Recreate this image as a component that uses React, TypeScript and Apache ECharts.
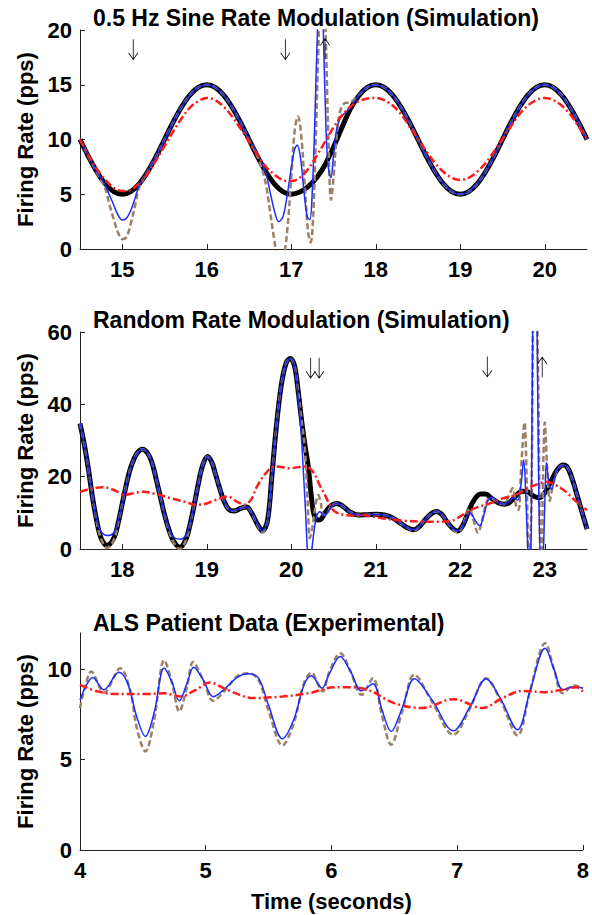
import React, { useEffect, useRef } from "react";
import * as echarts from "echarts";

type P = [number, number][];

// ---------- Panel 1: 0.5 Hz sine ----------
const p1Black: P = [
  [14.5, 10.0], [14.6, 8.45], [14.7, 7.06], [14.8, 5.95], [14.9, 5.24], [15.0, 5.0], [15.1, 5.24], [15.2, 5.95],
  [15.3, 7.06], [15.4, 8.45], [15.5, 10.0], [15.6, 11.55], [15.7, 12.94], [15.8, 14.05], [15.9, 14.76], [16.0, 15.0],
  [16.1, 14.76], [16.2, 14.05], [16.3, 12.94], [16.4, 11.55], [16.5, 10.0], [16.6, 8.45], [16.7, 7.06], [16.8, 5.95],
  [16.9, 5.24], [17.0, 5.0], [17.1, 5.2], [17.2, 5.7], [17.3, 6.5], [17.4, 7.7], [17.5, 9.3], [17.6, 11.1],
  [17.7, 12.8], [17.8, 14.0], [17.9, 14.76], [18.0, 15.0], [18.1, 14.76], [18.2, 14.05], [18.3, 12.94], [18.4, 11.55],
  [18.5, 10.0], [18.6, 8.45], [18.7, 7.06], [18.8, 5.95], [18.9, 5.24], [19.0, 5.0], [19.1, 5.24], [19.2, 5.95],
  [19.3, 7.06], [19.4, 8.45], [19.5, 10.0], [19.6, 11.55], [19.7, 12.94], [19.8, 14.05], [19.9, 14.76], [20.0, 15.0],
  [20.1, 14.76], [20.2, 14.05], [20.3, 12.94], [20.4, 11.55], [20.5, 10.0],
];
const p1BlueHead: P = [
  [14.5, 10], [14.6, 8.45], [14.7, 7.06], [14.8, 5.8], [14.85, 4.9], [14.9, 4.0], [14.95, 3.1], [15.0, 2.65],
  [15.05, 2.8], [15.1, 3.5], [15.15, 4.6], [15.2, 5.8], [15.3, 7.06], [15.4, 8.45], [15.5, 10], [15.6, 11.55],
  [15.7, 12.94], [15.8, 14.05], [15.9, 14.76], [16.0, 15], [16.1, 14.76], [16.2, 14.05], [16.3, 12.94], [16.4, 11.55],
  [16.5, 10], [16.6, 8.7], [16.7, 6.9], [16.75, 5.2], [16.8, 3.5], [16.85, 2.5], [16.9, 2.9], [16.95, 4.8],
  [17.0, 7.4], [17.04, 9.1], [17.07, 9.5], [17.11, 8.3], [17.15, 5.3], [17.19, 2.9], [17.22, 2.7], [17.25, 5.5],
  [17.28, 12], [17.31, 20], [17.34, 25], [17.37, 22], [17.4, 14], [17.43, 8], [17.47, 6.5], [17.5, 8.6],
  [17.53, 10.6], [17.57, 11.8], [17.62, 12.3], [17.7, 12.9], [17.8, 14.05],
];
const p1BrownHead: P = [
  [14.5, 10], [14.6, 8.45], [14.7, 7.0], [14.8, 5.5], [14.85, 4.0], [14.9, 2.7], [14.95, 1.5], [15.0, 0.9],
  [15.05, 1.1], [15.1, 2.3], [15.15, 3.9], [15.2, 5.6], [15.3, 7.06], [15.4, 8.45], [15.5, 10], [15.6, 11.55],
  [15.7, 12.94], [15.8, 14.05], [15.9, 14.76], [16.0, 15], [16.1, 14.76], [16.2, 14.05], [16.3, 12.94], [16.4, 11.55],
  [16.5, 10], [16.6, 8.45], [16.65, 7.4], [16.7, 5.9], [16.75, 3.4], [16.8, 0.8], [16.85, -1.2], [16.9, -1.0],
  [16.95, 1.5], [17.0, 6.5], [17.04, 10.8], [17.08, 12.1], [17.12, 10.2], [17.16, 5.8], [17.2, 1.5], [17.23, 0.6],
  [17.26, 3], [17.29, 10], [17.32, 18], [17.35, 25], [17.38, 26], [17.41, 19], [17.44, 10], [17.47, 4.5],
  [17.5, 6.5], [17.54, 10.5], [17.58, 12.6], [17.63, 13.3], [17.7, 13.4], [17.8, 14.05],
];
const p1Red: P = [
  [14.5, 10.0], [14.6, 8.6], [14.7, 7.3], [14.8, 6.3], [14.9, 5.6], [15.0, 5.3], [15.1, 5.4], [15.2, 6.0],
  [15.3, 6.9], [15.4, 8.1], [15.5, 9.4], [15.6, 10.7], [15.7, 11.9], [15.8, 12.9], [15.9, 13.5], [16.0, 13.8],
  [16.1, 13.6], [16.2, 13.0], [16.3, 12.1], [16.4, 11.0], [16.5, 9.8], [16.6, 8.6], [16.7, 7.5], [16.8, 6.8],
  [16.9, 6.3], [17.0, 6.2], [17.1, 6.5], [17.2, 7.3], [17.3, 8.5], [17.4, 9.8], [17.5, 11.1], [17.6, 12.2],
  [17.7, 13.0], [17.8, 13.5], [17.9, 13.75], [18.0, 13.8], [18.1, 13.6], [18.2, 13.1], [18.3, 12.3], [18.4, 11.2],
  [18.5, 10.05], [18.6, 8.9], [18.7, 7.85], [18.8, 7.05], [18.9, 6.5], [19.0, 6.3], [19.1, 6.5], [19.2, 7.05],
  [19.3, 7.85], [19.4, 8.9], [19.5, 10.05], [19.6, 11.2], [19.7, 12.3], [19.8, 13.1], [19.9, 13.6], [20.0, 13.8],
  [20.1, 13.6], [20.2, 13.1], [20.3, 12.3], [20.4, 11.2], [20.5, 10.05],
];
const p1ArrowDown: P = [[15.13, 18.2], [16.93, 18.2]];
const p1ArrowUp: P = [[17.4, 18.3]];

// ---------- Panel 2: random rate ----------
const p2Black: P = [
  [17.5, 34.7], [17.55, 29], [17.6, 22], [17.65, 14], [17.7, 7.5], [17.75, 3], [17.82, 1.0], [17.9, 3],
  [17.95, 7], [18.0, 12.5], [18.05, 18], [18.1, 22.5], [18.17, 26.3], [18.24, 27.6], [18.3, 26.5], [18.35, 24],
  [18.4, 19.5], [18.45, 14.5], [18.5, 9.5], [18.55, 5.5], [18.6, 2.5], [18.68, 0.5], [18.75, 2.5], [18.8, 6.5],
  [18.85, 12], [18.9, 18], [18.95, 23], [19.01, 25.6], [19.06, 24], [19.1, 21], [19.15, 17], [19.2, 13.5],
  [19.26, 11], [19.32, 10.5], [19.4, 11.2], [19.47, 11.6], [19.53, 10], [19.6, 6.8], [19.66, 5.0], [19.72, 8],
  [19.77, 20], [19.82, 33], [19.88, 45], [19.94, 51.5], [19.99, 52.7], [20.04, 50.5], [20.08, 44], [20.12, 36],
  [20.16, 29], [20.2, 23], [20.24, 14], [20.27, 9.5], [20.31, 8.0], [20.35, 8.2], [20.4, 10.0], [20.47, 12.0],
  [20.54, 12.6], [20.6, 12.0], [20.7, 10.2], [20.8, 9.4], [20.9, 9.5], [21.0, 9.6], [21.1, 9.4], [21.2, 8.6],
  [21.3, 7.0], [21.38, 5.8], [21.45, 5.3], [21.52, 6.3], [21.6, 8.5], [21.67, 10.0], [21.72, 10.4], [21.78, 9.6],
  [21.85, 7.3], [21.92, 5.5], [21.97, 5.0], [22.03, 6.5], [22.1, 10.5], [22.17, 13.8], [22.24, 15.2], [22.3, 15.2],
  [22.37, 14.0], [22.45, 12.8], [22.52, 12.4], [22.58, 12.8], [22.65, 14.5], [22.73, 16.0], [22.8, 15.8], [22.87, 14.6],
  [22.94, 14.2], [23.0, 15.5], [23.08, 19], [23.15, 22], [23.22, 23.2], [23.27, 22.5], [23.33, 19], [23.4, 13.5],
  [23.45, 9.5], [23.5, 5.5],
];
const p2Blue: P = [
  [17.5, 34.7], [17.55, 29], [17.6, 22], [17.65, 14], [17.7, 7.6], [17.75, 4.8], [17.82, 3.7], [17.9, 4.5],
  [17.95, 7.5], [18.0, 12.5], [18.05, 18], [18.1, 22.5], [18.17, 26.3], [18.24, 27.6], [18.3, 26.5], [18.35, 24],
  [18.4, 19.5], [18.45, 14.5], [18.5, 9.5], [18.55, 5.8], [18.6, 3.4], [18.68, 2.7], [18.75, 3.6], [18.8, 6.8],
  [18.85, 12], [18.9, 18], [18.95, 23], [19.01, 25.6], [19.06, 24], [19.1, 21], [19.15, 17], [19.2, 13.5],
  [19.26, 11], [19.32, 10.5], [19.4, 11.2], [19.47, 11.6], [19.53, 10], [19.6, 6.8], [19.66, 5.0], [19.72, 8],
  [19.77, 20], [19.82, 33], [19.88, 45], [19.94, 51.5], [19.99, 52.7], [20.04, 50.5], [20.08, 43], [20.12, 31],
  [20.14, 23], [20.17, 10], [20.2, -4], [20.22, -6], [20.24, -1], [20.27, 5], [20.3, 9], [20.34, 10.3],
  [20.39, 9.2], [20.44, 10.5], [20.5, 12.3], [20.54, 12.6], [20.6, 12.0], [20.7, 10.2], [20.8, 9.4], [20.9, 9.5],
  [21.0, 9.6], [21.1, 9.4], [21.2, 8.6], [21.3, 7.0], [21.38, 5.8], [21.45, 5.3], [21.52, 6.3], [21.6, 8.5],
  [21.67, 10.0], [21.72, 10.4], [21.78, 9.6], [21.85, 7.3], [21.92, 5.5], [21.97, 5.0], [22.03, 6.5], [22.08, 9.2],
  [22.12, 9.9], [22.17, 8.2], [22.23, 6.4], [22.28, 9.5], [22.33, 13.5], [22.38, 14.3], [22.45, 12.8], [22.52, 12.4],
  [22.58, 13.2], [22.63, 14.2], [22.68, 13.5], [22.72, 18], [22.75, 24.6], [22.78, 12], [22.8, 0], [22.82, -8],
  [22.84, 5], [22.86, 70], [22.885, 90], [22.91, 60], [22.93, 15], [22.96, -8], [22.98, -3], [23.0, 12],
  [23.02, 24], [23.05, 18], [23.08, 16.5], [23.12, 20], [23.15, 22], [23.22, 23.2], [23.27, 22.5], [23.33, 19],
  [23.4, 13.5], [23.45, 9.5], [23.5, 5.5],
];
const p2Brown: P = [
  [17.5, 34.7], [17.55, 29], [17.6, 22], [17.65, 14], [17.7, 7.2], [17.75, 2.8], [17.82, 0.3], [17.9, 2.5],
  [17.95, 7], [18.0, 12.5], [18.05, 18], [18.1, 22.5], [18.17, 26.3], [18.24, 27.6], [18.3, 26.5], [18.35, 24],
  [18.4, 19.5], [18.45, 14.5], [18.5, 9.5], [18.55, 5.3], [18.6, 2.2], [18.68, 0.0], [18.75, 2.2], [18.8, 6.5],
  [18.85, 12], [18.9, 18], [18.95, 23], [19.01, 25.6], [19.06, 24], [19.1, 21], [19.15, 17], [19.2, 13.5],
  [19.26, 11], [19.32, 10.5], [19.4, 11.2], [19.47, 11.6], [19.53, 10], [19.6, 6.6], [19.66, 4.6], [19.72, 8],
  [19.77, 20], [19.82, 33], [19.88, 45], [19.94, 51.5], [19.99, 52.7], [20.04, 50.5], [20.08, 44], [20.12, 36],
  [20.16, 28], [20.2, 10], [20.22, 3], [20.25, 6], [20.29, 12.5], [20.32, 14.9], [20.35, 12.5], [20.38, 9.4],
  [20.42, 9.6], [20.47, 11.8], [20.54, 12.6], [20.6, 12.0], [20.7, 10.2], [20.8, 9.4], [20.9, 9.5], [21.0, 9.6],
  [21.1, 9.4], [21.2, 8.6], [21.3, 7.0], [21.38, 5.8], [21.45, 5.0], [21.52, 6.3], [21.6, 8.5], [21.67, 10.0],
  [21.72, 10.4], [21.78, 9.6], [21.85, 7.3], [21.92, 5.3], [21.97, 4.6], [22.03, 6.5], [22.08, 10], [22.11, 11.2],
  [22.15, 8.5], [22.21, 4.5], [22.26, 8], [22.32, 13.5], [22.37, 14.0], [22.45, 12.8], [22.52, 12.4], [22.57, 14.5],
  [22.62, 16.8], [22.66, 12], [22.69, 10.8], [22.72, 22], [22.76, 35], [22.79, 15], [22.81, -5], [22.84, 10],
  [22.865, 70], [22.89, 85], [22.92, 50], [22.945, 0], [22.96, -5], [22.98, 20], [23.0, 35], [23.03, 22],
  [23.06, 13.3], [23.09, 17], [23.12, 19.5], [23.15, 22], [23.22, 23.2], [23.27, 22.5], [23.33, 19], [23.4, 13.5],
  [23.45, 9.5], [23.5, 5.5],
];
const p2Red: P = [
  [17.5, 15.8], [17.6, 16.5], [17.77, 17.1], [17.9, 16.3], [18.03, 15.0], [18.15, 15.5], [18.25, 15.8], [18.4, 15.2],
  [18.58, 14.0], [18.75, 13.0], [18.88, 12.2], [19.0, 12.6], [19.1, 13.5], [19.25, 14.5], [19.35, 13.2], [19.45, 12.3],
  [19.52, 13.5], [19.6, 17.5], [19.7, 21.0], [19.8, 22.8], [19.9, 22.6], [19.96, 22.3], [20.05, 22.5], [20.15, 22.8],
  [20.22, 22.3], [20.28, 20.5], [20.34, 17.5], [20.4, 14.9], [20.46, 12.0], [20.52, 10.3], [20.63, 9.4], [20.75, 9.2],
  [20.85, 9.4], [20.95, 9.0], [21.07, 8.5], [21.2, 8.1], [21.35, 7.8], [21.54, 7.6], [21.7, 7.5], [21.89, 7.8],
  [22.0, 9.0], [22.1, 10.5], [22.2, 11.5], [22.35, 12.6], [22.5, 14.0], [22.68, 15.2], [22.75, 16.3], [22.9, 17.8],
  [23.02, 18.6], [23.12, 17.8], [23.24, 16.0], [23.35, 13.6], [23.45, 11.5], [23.5, 10.8],
];
const p2ArrowDown: P = [[20.23, 50], [20.33, 50], [22.32, 50.3]];
const p2ArrowUp: P = [[22.97, 50.3]];

// ---------- Panel 3: ALS patient ----------
const p3Blue: P = [
  [4.0, 8.3], [4.05, 9.1], [4.1, 9.54], [4.19, 8.86], [4.31, 9.83], [4.38, 9.2], [4.45, 7.4], [4.52, 6.28],
  [4.59, 7.6], [4.67, 10.06], [4.73, 9.3], [4.79, 8.25], [4.85, 9.2], [4.905, 10.1], [4.98, 9.4], [5.06, 8.48],
  [5.15, 8.9], [5.25, 9.55], [5.34, 9.74], [5.42, 9.5], [5.5, 8.0], [5.61, 6.15], [5.7, 7.2], [5.78, 9.1],
  [5.84, 9.63], [5.925, 8.95], [5.98, 9.7], [6.07, 10.7], [6.15, 9.9], [6.24, 8.8], [6.33, 9.2], [6.4, 7.8],
  [6.475, 6.55], [6.56, 7.8], [6.66, 9.47], [6.8, 8.3], [6.97, 6.59], [7.1, 7.9], [7.23, 9.45], [7.35, 8.3],
  [7.48, 6.65], [7.58, 8.8], [7.7, 11.16], [7.77, 10.0], [7.84, 8.86], [7.93, 9.03], [8.0, 8.95],
];
const p3Brown: P = [
  [4.0, 7.85], [4.04, 9.0], [4.09, 9.87], [4.19, 8.7], [4.32, 10.05], [4.4, 8.8], [4.45, 6.8], [4.52, 5.45],
  [4.59, 7.2], [4.67, 10.5], [4.73, 9.3], [4.79, 7.66], [4.85, 9.0], [4.9, 10.4], [4.98, 9.4], [5.06, 8.25],
  [5.15, 8.8], [5.25, 9.6], [5.34, 9.78], [5.42, 9.4], [5.5, 7.7], [5.61, 5.78], [5.7, 7.0], [5.78, 9.2],
  [5.84, 9.8], [5.93, 8.77], [5.98, 9.8], [6.07, 10.88], [6.15, 9.9], [6.24, 8.58], [6.33, 9.5], [6.4, 7.5],
  [6.475, 5.82], [6.56, 7.6], [6.66, 9.69], [6.8, 8.2], [6.97, 6.37], [7.1, 7.8], [7.23, 9.5], [7.35, 8.2],
  [7.48, 6.34], [7.58, 8.8], [7.7, 11.44], [7.77, 10.0], [7.84, 8.67], [7.93, 9.1], [8.0, 8.95],
];
const p3Red: P = [
  [4.0, 9.13], [4.14, 8.77], [4.3, 8.62], [4.52, 8.62], [4.67, 8.67], [4.8, 8.49], [4.92, 8.85], [5.03, 9.26],
  [5.17, 8.86], [5.38, 8.4], [5.61, 8.49], [5.82, 8.67], [6.03, 9.0], [6.15, 9.0], [6.29, 8.86], [6.5, 8.12],
  [6.72, 7.85], [6.97, 8.34], [7.2, 7.85], [7.36, 8.4], [7.52, 8.8], [7.7, 8.73], [7.83, 8.86], [7.95, 9.0],
  [8.0, 8.77],
];

const titles = [
  "0.5 Hz Sine Rate Modulation (Simulation)",
  "Random Rate Modulation (Simulation)",
  "ALS Patient Data (Experimental)",
];
const p1XTicks = [15, 16, 17, 18, 19, 20];
const p2XTicks = [18, 19, 20, 21, 22, 23];
const p3XTicks = [4, 5, 6, 7, 8];
const p1YTicks = [0, 5, 10, 15, 20];
const p2YTicks = [0, 20, 40, 60];
const p3YTicks = [0, 5, 10];
const yName = "Firing Rate (pps)";
const xName = "Time (seconds)";

const FONT = "Liberation Sans";
const BLACK = "#000000";
const BROWN = "#9b8068";
const BLUE = "#1a2cff";
const RED = "#ff1a1a";

// thin open-headed arrows (as filled outline paths)
const ARROW_DOWN =
  "path://M4.6,0 L5.4,0 L5.4,18.6 L9.4,13 L10,13.5 L5,20.5 L0,13.5 L0.6,13 L4.6,18.6 Z";
const ARROW_UP =
  "path://M4.6,20.5 L5.4,20.5 L5.4,1.9 L9.4,7.5 L10,7 L5,0 L0,7 L0.6,7.5 L4.6,1.9 Z";

function extend(head: P, base: P): P {
  const last = head[head.length - 1][0];
  return head.concat(base.filter((p) => p[0] > last + 1e-9));
}

export default function App() {
  const ref = useRef<HTMLDivElement>(null);
  useEffect(() => {
    if (!ref.current) return;
    const chart = echarts.init(ref.current, undefined, { renderer: "svg" });

    const grids = [
      { left: 80, top: 30, width: 507, height: 219 },
      { left: 80, top: 332, width: 507, height: 217 },
      { left: 80, top: 633, width: 507, height: 217 },
    ];
    const axisLineStyle = { color: "#222", width: 1 };
    const labelStyle = { color: "#000", fontSize: 22, fontWeight: "bold" as const, fontFamily: FONT };
    const nameStyle = { color: "#000", fontSize: 22, fontWeight: "bold" as const, fontFamily: FONT };

    const xAx = (gi: number, min: number, max: number, ticks: number[], name?: string) => ({
      type: "value",
      gridIndex: gi,
      min,
      max,
      axisLine: { show: true, onZero: false, lineStyle: axisLineStyle },
      axisTick: { show: true, inside: true, length: 5, customValues: ticks, lineStyle: axisLineStyle },
      axisLabel: { ...labelStyle, margin: 9, customValues: ticks },
      splitLine: { show: false },
      name,
      nameLocation: "middle",
      nameGap: 40,
      nameTextStyle: nameStyle,
    });
    const yAx = (gi: number, min: number, max: number, ticks: number[]) => ({
      type: "value",
      gridIndex: gi,
      min,
      max,
      axisLine: { show: true, onZero: false, lineStyle: axisLineStyle },
      axisTick: { show: true, inside: true, length: 5, customValues: ticks, lineStyle: axisLineStyle },
      axisLabel: { ...labelStyle, margin: 8, customValues: ticks },
      splitLine: { show: false },
      name: yName,
      nameLocation: "middle",
      nameGap: 44,
      nameTextStyle: nameStyle,
    });

    const line = (gi: number, data: P, color: string, width: number, type: any, z: number) => ({
      type: "line",
      xAxisIndex: gi,
      yAxisIndex: gi,
      data,
      symbol: "none",
      showSymbol: false,
      smooth: 0.35,
      clip: true,
      silent: true,
      z,
      lineStyle: { color, width, type, cap: "butt" },
    });
    const arrows = (gi: number, data: P, symbol: string) => ({
      type: "scatter",
      xAxisIndex: gi,
      yAxisIndex: gi,
      data,
      symbol,
      symbolSize: [10, 21],
      symbolKeepAspect: false,
      itemStyle: { color: "#000", opacity: 1 },
      silent: true,
      z: 10,
    });

    const dashBrown = [6, 3];
    const dashRed = [8, 3, 2, 3];

    chart.setOption({
      animation: false,
      backgroundColor: "#ffffff",
      grid: grids,
      xAxis: [
        xAx(0, 14.5, 20.5, p1XTicks),
        xAx(1, 17.5, 23.5, p2XTicks),
        xAx(2, 4, 8, p3XTicks, xName),
      ],
      yAxis: [yAx(0, 0, 20, p1YTicks), yAx(1, 0, 60, p2YTicks), yAx(2, 0, 12, p3YTicks)],
      series: [
        line(0, p1Black, BLACK, 5, "solid", 2),
        line(0, extend(p1BrownHead, p1Black), BROWN, 2.5, dashBrown, 3),
        line(0, extend(p1BlueHead, p1Black), BLUE, 1.5, "solid", 4),
        line(0, p1Red, RED, 2.5, dashRed, 5),
        arrows(0, p1ArrowDown, ARROW_DOWN),
        arrows(0, p1ArrowUp, ARROW_UP),
        line(1, p2Black, BLACK, 5, "solid", 2),
        line(1, p2Brown, BROWN, 2.5, dashBrown, 3),
        line(1, p2Blue, BLUE, 1.5, "solid", 4),
        line(1, p2Red, RED, 2.5, dashRed, 5),
        arrows(1, p2ArrowDown, ARROW_DOWN),
        arrows(1, p2ArrowUp, ARROW_UP),
        line(2, p3Brown, BROWN, 2.5, dashBrown, 3),
        line(2, p3Blue, BLUE, 1.5, "solid", 4),
        line(2, p3Red, RED, 2.5, dashRed, 5),
      ],
      graphic: titles.map((t, i) => ({
        type: "text",
        x: 93,
        y: [17.5, 319.5, 622.5][i],
        style: {
          text: t,
          fill: "#000",
          font: `bold 23px "${FONT}"`,
          textVerticalAlign: "middle",
          textAlign: "left",
        },
      })),
    });
    return () => chart.dispose();
  }, []);
  return (
    <div
      ref={ref}
      style={{ position: "fixed", left: 0, top: 0, width: 592, height: 915, background: "#fff" }}
    />
  );
}
